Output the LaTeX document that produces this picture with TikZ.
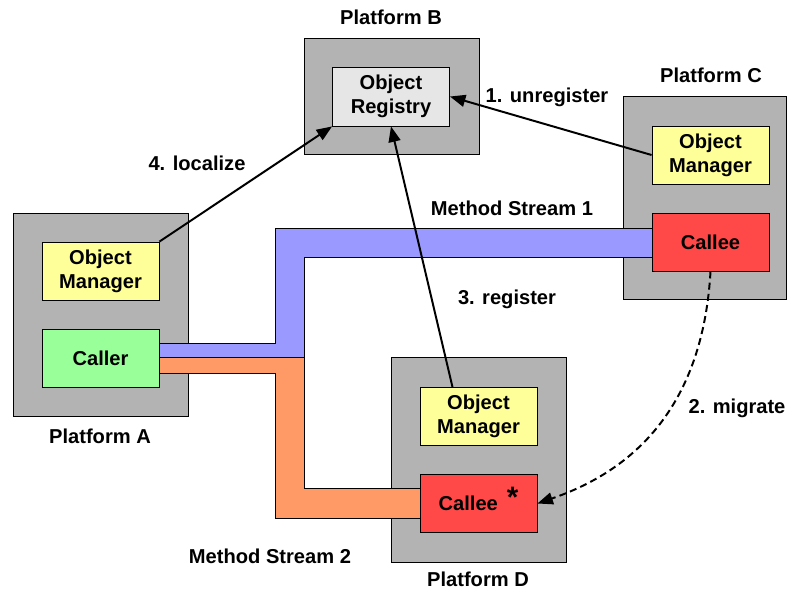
\documentclass[tikz,border=0pt]{standalone}
\usepackage{fontspec}
\setmainfont{Liberation Sans}
\usetikzlibrary{arrows.meta}

\definecolor{platgray}{HTML}{B3B3B3}
\definecolor{regbox}{HTML}{E6E6E6}
\definecolor{mgrbox}{HTML}{FFFF99}
\definecolor{callerbox}{HTML}{99FF99}
\definecolor{calleebox}{HTML}{FF4848}
\definecolor{streamone}{HTML}{9999FF}
\definecolor{streamtwo}{HTML}{FF9966}

\tikzset{
  every node/.style={font=\fontsize{14.3}{17}\selectfont\bfseries},
  platform/.style={draw, fill=platgray, line width=0.6pt, inner sep=0pt},
  comp/.style={draw, line width=0.6pt, inner sep=0pt, align=center,
    minimum width=2.925cm, minimum height=1.45cm},
  pipe/.style={draw, line width=0.6pt},
  msg/.style={line width=1.4pt, -{Triangle[length=11pt,width=8.5pt]}},
}

\begin{document}
\begin{tikzpicture}[x=0.025cm,y=-0.025cm]
\useasboundingbox (0,0) rectangle (788,591);

% platforms
\node[platform, minimum width=4.375cm, minimum height=5.075cm] (platA) at (100.5,314.5) {};
\node[platform, minimum width=4.375cm, minimum height=2.9cm] (platB) at (391.5,96) {};
\node[platform, minimum width=4.075cm, minimum height=5.075cm] (platC) at (704.5,197.5) {};
\node[platform, minimum width=4.375cm, minimum height=5.125cm] (platD) at (478.5,459.5) {};

\node (labA) at (100,436) {Platform A};
\node (labB) at (391,17) {Platform B};
\node (labC) at (711,75) {Platform C};
\node (labD) at (478,579) {Platform D};

% method streams
\path[pipe, fill=streamone] (159,343) -- (275,343) -- (275,228) -- (652,228)
  -- (652,257) -- (304,257) -- (304,357) -- (159,357) -- cycle;
\path[pipe, fill=streamtwo] (159,357) -- (304,357) -- (304,488) -- (420,488)
  -- (420,518) -- (275,518) -- (275,373) -- (159,373) -- cycle;

% components
\node[comp, fill=mgrbox] (omA) at (100.5,271) {Object\\Manager};
\node[comp, fill=callerbox] (caller) at (100.5,358) {Caller};
\node[comp, fill=regbox, minimum height=1.475cm] (reg) at (391,96.5) {Object\\Registry};
\node[comp, fill=mgrbox] (omC) at (710.5,155) {Object\\Manager};
\node[comp, fill=calleebox] (calleeC) at (710.5,242) {Callee};
\node[comp, fill=mgrbox] (omD) at (478.5,416.5) {Object\\Manager};
\node[comp, fill=calleebox] (calleeD) at (478.5,503.5)
  {Callee\ \,\smash{\raisebox{2pt}{\fontsize{21}{21}\selectfont *}}};

% messages
\draw[msg] (omC.west) -- (reg.east);
\draw[msg] (omA.north east) -- (reg.south west);
\path (omD.north) ++(-26,0) coordinate (regfrom);
\draw[msg] (regfrom) -- (reg.south);
\draw[msg, dashed, dash pattern=on 5pt off 3pt] (calleeC.south)
  .. controls (702,420) and (620,475) .. (calleeD.east);

\node (lunreg) at (547,97) {1. unregister};
\node (lmig) at (737,408) {2. migrate};
\node (lreg) at (507,299) {3. register};
\node (lloc) at (197,163) {4. localize};
\node (lms1) at (512,208) {Method Stream 1};
\node (lms2) at (270,556) {Method Stream 2};
\end{tikzpicture}
\end{document}
